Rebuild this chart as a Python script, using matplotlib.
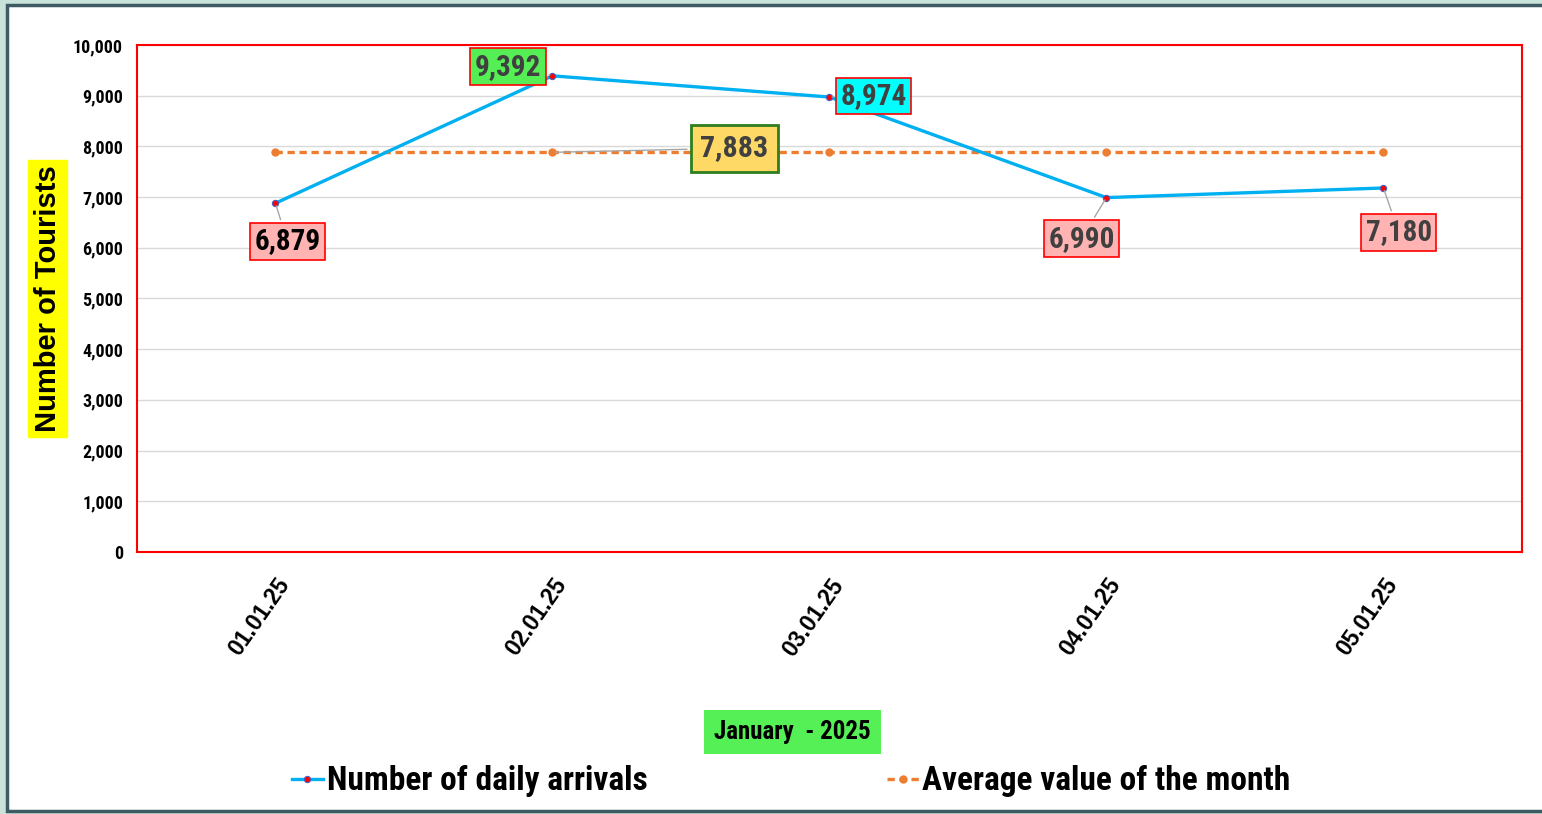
import matplotlib
matplotlib.use("Agg")
import matplotlib.pyplot as plt
from matplotlib.patches import Rectangle

# chart data
dates = ["01.01.25", "02.01.25", "03.01.25", "04.01.25", "05.01.25"]
arrivals = [6879, 9392, 8974, 6990, 7180]
month_avg = [7883, 7883, 7883, 7883, 7883]
y_ticks = [0, 1000, 2000, 3000, 4000, 5000, 6000, 7000, 8000, 9000, 10000]

NARROW = ["Arial Narrow", "Liberation Sans Narrow", "Roboto Condensed",
          "Open Sans Condensed", "IBM Plex Sans Condensed", "DejaVu Sans"]
ARIAL = ["Arial", "Liberation Sans", "Arimo", "DejaVu Sans"]

fig = plt.figure(figsize=(15.42, 8.14), dpi=100)
fig.patch.set_facecolor("#c9e2da")
# white card with dark frame, kept behind the axes
fig.patches.append(Rectangle((0.0045, 0.0037), 1.0, 0.990, transform=fig.transFigure,
                             facecolor="white", edgecolor="#3e5b63", lw=2.5, zorder=-5))

ax = fig.add_axes([0.0888, 0.3219, 0.8982, 0.6228])
ax.set_facecolor("white")
x = list(range(len(dates)))

ax.plot(x, arrivals, color="#00b0f0", lw=2.4, marker="o", ms=4.5,
        mfc="red", mec="#4a5fc1", mew=0.8, label="Number of daily arrivals", zorder=4)
ax.plot(x, month_avg, color="#ed7d31", lw=2.4, ls=(0, (2.2, 1.4)), marker="o", ms=5,
        mfc="#ed7d31", mec="#ed7d31", label="Average value of the month", zorder=3)

ax.set_xlim(-0.5, 4.5)
ax.set_ylim(0, 10000)
ax.set_yticks(y_ticks)
ax.set_yticklabels([f"{v:,}" for v in y_ticks], fontfamily=NARROW, fontweight="bold", fontsize=13)
ax.set_xticks(x)
ax.set_xticklabels(dates, rotation=55, ha="right", rotation_mode="anchor",
                   fontfamily=ARIAL, fontweight="bold", fontsize=16.5)
ax.tick_params(axis="both", length=0)
ax.tick_params(axis="x", pad=16)
ax.tick_params(axis="y", pad=10)
ax.grid(axis="y", color="#d9d9d9", lw=1)
ax.set_axisbelow(True)
for s in ax.spines.values():
    s.set_color("red")
    s.set_linewidth(1.5)

ax.set_ylabel("Number of Tourists", fontfamily=ARIAL, fontweight="bold", fontsize=21,
              backgroundcolor="#ffff00", labelpad=8)

# data labels: (index, value, offset in points, face, edge, text colour)
label_style = [
    (0, arrivals[0], (8.6, -27.4), "#ffb3b3", "red", "black"),
    (1, arrivals[1], (-32, 6.5), "#55ee55", "red", "#404040"),
    (2, arrivals[2], (32, 0.7), "#00ffff", "red", "#404040"),
    (3, arrivals[3], (-18, -29.5), "#ffb3b3", "red", "#404040"),
    (4, arrivals[4], (11, -32), "#ffb3b3", "red", "#404040"),
]
for i, v, off, fc, ec, tc in label_style:
    ax.annotate(f"{v:,}", (i, v), xytext=off, textcoords="offset points",
                ha="center", va="center", fontsize=21, fontweight="bold",
                fontfamily=NARROW, color=tc,
                bbox=dict(boxstyle="square,pad=0.15", fc=fc, ec=ec, lw=1.2),
                arrowprops=dict(arrowstyle="-", color="#a6a6a6", lw=1), zorder=6)

ax.annotate(f"{month_avg[1]:,}", (1, month_avg[1]), xytext=(131, 3), textcoords="offset points",
            ha="center", va="center", fontsize=21.5, fontweight="bold",
            fontfamily=NARROW, color="#404040",
            bbox=dict(boxstyle="square,pad=0.32", fc="#ffd966", ec="#2e7d1e", lw=2),
            arrowprops=dict(arrowstyle="-", color="#a6a6a6", lw=1), zorder=6)

fig.text(0.514, 0.101, "January  - 2025", ha="center", va="center",
         fontfamily=NARROW, fontweight="bold", fontsize=18,
         bbox=dict(boxstyle="square,pad=0.4", fc="#55f055", ec="none"))

leg = fig.legend(loc="center", bbox_to_anchor=(0.513, 0.04), ncol=2, frameon=False,
                 handlelength=0.95, handletextpad=0.1, columnspacing=7.2,
                 prop=dict(family=NARROW, weight="bold", size=24))

fig.savefig("out.png", dpi=100, facecolor=fig.get_facecolor())
